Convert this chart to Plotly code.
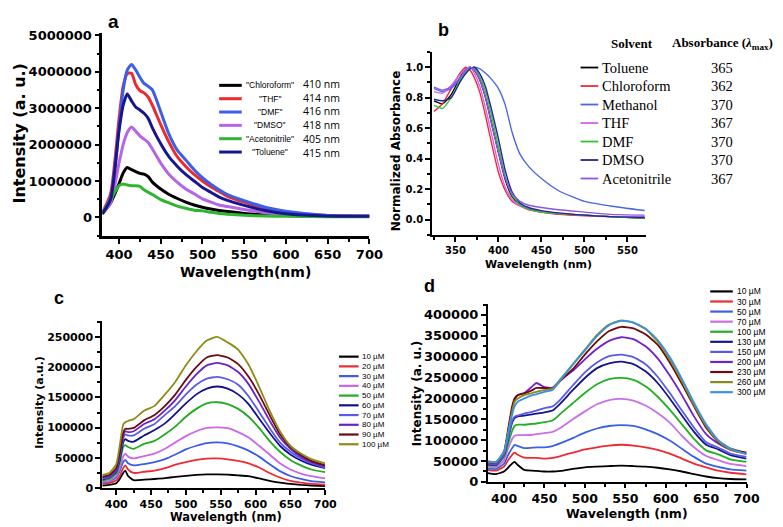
import plotly.graph_objects as go

W, H = 783, 527

# ---------------- Panel a data (emission in solvents) ----------------
a_wl = [380, 390, 400, 405, 410, 415, 420, 425, 430, 435, 440, 450, 460, 470,
        480, 490, 500, 510, 520, 530, 550, 575, 600, 650, 700]
a_chloroform = [0.10e6, 0.40e6, 0.92e6, 1.22e6, 1.37e6, 1.31e6, 1.26e6, 1.21e6, 1.19e6, 1.12e6, 0.97e6, 0.78e6, 0.63e6, 0.52e6,
                0.42e6, 0.34e6, 0.28e6, 0.23e6, 0.19e6, 0.16e6, 0.11e6, 0.07e6, 0.05e6, 0.03e6, 0.03e6]
a_thf = [0.12e6, 0.65e6, 2.70e6, 3.60e6, 3.95e6, 3.96e6, 3.65e6, 3.48e6, 3.42e6, 3.30e6, 3.08e6, 2.55e6, 2.06e6, 1.66e6,
         1.40e6, 1.18e6, 1.00e6, 0.84e6, 0.71e6, 0.58e6, 0.42e6, 0.25e6, 0.14e6, 0.05e6, 0.03e6]
a_dmf = [0.12e6, 0.55e6, 2.45e6, 3.50e6, 4.05e6, 4.20e6, 4.05e6, 3.85e6, 3.68e6, 3.60e6, 3.50e6, 2.90e6, 2.28e6, 1.84e6,
         1.58e6, 1.31e6, 1.09e6, 0.91e6, 0.76e6, 0.63e6, 0.46e6, 0.28e6, 0.17e6, 0.05e6, 0.03e6]
a_dmso = [0.10e6, 0.40e6, 1.49e6, 2.00e6, 2.33e6, 2.48e6, 2.37e6, 2.24e6, 2.15e6, 2.06e6, 1.88e6, 1.49e6, 1.18e6, 0.96e6,
          0.78e6, 0.65e6, 0.51e6, 0.42e6, 0.34e6, 0.30e6, 0.22e6, 0.13e6, 0.07e6, 0.03e6, 0.03e6]
a_acetonitrile = [0.09e6, 0.49e6, 0.87e6, 0.92e6, 0.89e6, 0.87e6, 0.87e6, 0.85e6, 0.76e6, 0.69e6, 0.63e6, 0.49e6, 0.40e6, 0.31e6,
                  0.25e6, 0.20e6, 0.18e6, 0.14e6, 0.11e6, 0.09e6, 0.06e6, 0.04e6, 0.03e6, 0.02e6, 0.02e6]
a_toluene = [0.10e6, 0.50e6, 2.37e6, 3.08e6, 3.39e6, 3.20e6, 3.03e6, 2.95e6, 2.86e6, 2.72e6, 2.46e6, 2.02e6, 1.66e6, 1.40e6,
             1.18e6, 1.00e6, 0.82e6, 0.69e6, 0.56e6, 0.47e6, 0.33e6, 0.19e6, 0.10e6, 0.04e6, 0.03e6]
a_names = ["Chloroform", "THF", "DMF", "DMSO", "Acetonitrile", "Toluene"]
a_peaks = ["410 nm", "414 nm", "416 nm", "418 nm", "405 nm", "415 nm"]
a_colors = ["#000000", "#ee2a2e", "#3d5fe6", "#b565e6", "#2fb52f", "#16168e"]
a_series = [a_chloroform, a_thf, a_dmf, a_dmso, a_acetonitrile, a_toluene]

# ---------------- Panel b data (normalized absorbance) ----------------
b_wl = [325, 335, 345, 355, 362, 367, 372, 378, 385, 392, 400, 408, 416, 425,
        435, 450, 470, 500, 530, 570]
b_toluene = [0.78, 0.76, 0.82, 0.93, 0.99, 1.00, 0.98, 0.92, 0.80, 0.63, 0.44, 0.26, 0.15, 0.10,
             0.07, 0.05, 0.04, 0.03, 0.02, 0.01]
b_chloroform = [0.71, 0.76, 0.86, 0.96, 1.00, 0.98, 0.93, 0.84, 0.68, 0.50, 0.31, 0.19, 0.12, 0.09,
                0.065, 0.05, 0.035, 0.025, 0.02, 0.015]
b_methanol = [0.86, 0.84, 0.86, 0.92, 0.96, 0.99, 1.00, 0.99, 0.96, 0.92, 0.86, 0.75, 0.57, 0.43,
              0.35, 0.27, 0.19, 0.12, 0.09, 0.06]
b_thf = [0.84, 0.83, 0.88, 0.95, 0.99, 1.00, 0.96, 0.88, 0.73, 0.56, 0.36, 0.21, 0.13, 0.09,
         0.07, 0.05, 0.04, 0.03, 0.02, 0.02]
b_dmf = [0.75, 0.73, 0.80, 0.91, 0.97, 0.99, 0.99, 0.94, 0.84, 0.68, 0.48, 0.28, 0.16, 0.10,
         0.07, 0.05, 0.04, 0.03, 0.02, 0.01]
b_dmso = [0.79, 0.78, 0.80, 0.90, 0.96, 0.99, 1.00, 0.96, 0.87, 0.72, 0.53, 0.32, 0.18, 0.11,
          0.08, 0.06, 0.045, 0.03, 0.02, 0.015]
b_acetonitrile = [0.87, 0.85, 0.87, 0.93, 0.98, 1.00, 0.98, 0.92, 0.80, 0.63, 0.44, 0.27, 0.17, 0.12,
                  0.095, 0.08, 0.065, 0.05, 0.035, 0.03]
b_names = ["Toluene", "Chloroform", "Methanol", "THF", "DMF", "DMSO", "Acetonitrile"]
b_lmax = ["365", "362", "370", "367", "370", "370", "367"]
b_colors = ["#000000", "#ee2a3a", "#4a68e0", "#d066e6", "#33c433", "#24249c", "#8a56e6"]
b_series = [b_toluene, b_chloroform, b_methanol, b_thf, b_dmf, b_dmso, b_acetonitrile]

# ---------------- Panel c data (concentration series) ----------------
c_wl = [380, 390, 400, 405, 410, 413, 417, 425, 440, 455, 470, 485, 500, 515, 530,
        545, 560, 575, 590, 605, 620, 635, 650, 665, 680, 700]
c_10 = [4200, 5300, 8000, 15000, 25000, 29000, 20000, 13000, 13800, 15000, 16400, 18500, 20000, 21700, 22700,
        22700, 22200, 21000, 19600, 16000, 12000, 9000, 6900, 5300, 4200, 3200]
c_20 = [6900, 8000, 13000, 20000, 33000, 37600, 30700, 25000, 27000, 29000, 33000, 38600, 43000, 46500, 48700,
        49000, 47600, 45000, 41000, 34000, 25000, 17500, 12000, 9000, 6900, 5800]
c_30 = [9000, 10600, 17500, 28000, 43000, 46500, 41000, 37600, 39700, 43000, 48000, 55500, 64000, 70000, 74500,
        75600, 74000, 69000, 62000, 52000, 39700, 28000, 20000, 15000, 11600, 9500]
c_40 = [10600, 12000, 20000, 33000, 52000, 57000, 52000, 49000, 53000, 57000, 65000, 75600, 86000, 94000, 99500,
        100500, 99000, 92500, 83600, 70000, 55500, 41000, 30700, 24000, 19600, 16000]
c_50 = [12000, 15000, 24000, 41000, 68000, 71000, 68000, 65000, 73000, 78000, 89000, 102000, 118000, 131000, 140000,
        142000, 139000, 131000, 118000, 99500, 78000, 60000, 46500, 37600, 30700, 26500]
c_60 = [14000, 17500, 27000, 46500, 75600, 81000, 78000, 76700, 87000, 96000, 107000, 123000, 140000, 155000, 164500,
        168000, 164500, 155000, 139000, 115000, 91500, 70000, 55500, 45500, 38600, 33000]
c_70 = [16000, 18500, 29000, 52000, 82000, 89000, 87000, 87000, 98000, 106000, 121000, 136000, 155000, 171000, 181000,
        184000, 180000, 171000, 152000, 126000, 99500, 75600, 60000, 49000, 41000, 34000]
c_80 = [17500, 20000, 30700, 55500, 87000, 94000, 92500, 94000, 106000, 114000, 128500, 146000, 168000, 188000, 203000,
        207000, 203000, 192000, 172000, 143000, 112000, 83600, 65000, 52000, 43000, 36000]
c_90 = [19000, 21700, 33000, 60000, 91500, 98000, 98000, 99500, 112000, 121000, 136000, 155000, 179000, 200000, 216000,
        220000, 216000, 205000, 184000, 155000, 121000, 89000, 68000, 54500, 45000, 37600]
c_100 = [21700, 25000, 39000, 70000, 105000, 109000, 111000, 114000, 128000, 136000, 155000, 176000, 203000, 226000, 244000,
         250000, 241000, 229000, 204000, 168000, 128500, 94000, 70000, 57000, 48000, 41000]
c_labels = ["10 µM", "20 µM", "30 µM", "40 µM", "50 µM", "60 µM", "70 µM", "80 µM", "90 µM", "100 µM"]
c_colors = ["#000000", "#ee2a32", "#3a5ce8", "#c868e8", "#22aa22", "#12128c", "#5a5aea", "#6a22c8", "#6a0a12", "#8c8c14"]
c_series = [c_10, c_20, c_30, c_40, c_50, c_60, c_70, c_80, c_90, c_100]

# ---------------- Panel d data (concentration series) ----------------
d_wl = [380, 390, 400, 405, 410, 413, 417, 425, 435, 440, 450, 460, 470, 485, 500, 515, 530,
        545, 560, 575, 590, 605, 620, 635, 650, 665, 680, 700]
d_10 = [21000, 18700, 25000, 34000, 44000, 48000, 40500, 29000, 27000, 26500, 25000, 25000, 26500, 31000, 35000, 36600, 38000,
        39000, 38000, 36600, 34000, 30000, 25000, 18700, 13000, 9000, 7000, 6000]
d_30 = [29000, 27000, 36600, 52000, 65000, 70000, 65000, 58000, 57800, 57600, 56000, 57600, 62000, 70000, 78000, 83000, 87000,
        89000, 87000, 83000, 77000, 68000, 56000, 44000, 35000, 27000, 22000, 18000]
d_50 = [32700, 31000, 44000, 64000, 81000, 89000, 86000, 81000, 82000, 82600, 83000, 86000, 93000, 105000, 118000, 128000, 134000,
        136000, 134000, 126000, 114500, 99000, 79500, 60000, 44000, 36000, 30000, 27000]
d_70 = [36600, 35000, 52000, 79500, 103000, 110600, 112000, 112000, 113000, 114500, 117000, 120000, 130000, 150000, 169000, 186000, 196000,
        199000, 195000, 183000, 165000, 142000, 110600, 83000, 62000, 52000, 43000, 38000]
d_100 = [40500, 39000, 60000, 91000, 122000, 134000, 137000, 137000, 139000, 140000, 143000, 147000, 163600, 188500, 213000, 234000, 246000,
         249000, 244600, 229000, 204000, 173000, 138000, 103000, 75600, 66000, 54000, 48000]
d_130 = [42000, 40500, 64000, 103000, 142000, 153000, 157000, 159000, 162000, 163600, 166700, 171000, 188500, 219700, 249000, 272600, 284000,
         288000, 282000, 265000, 237000, 200000, 159000, 120000, 89000, 78000, 64000, 56000]
d_150 = [43600, 42000, 65000, 106000, 146000, 156000, 159000, 163600, 168000, 171000, 177000, 181000, 198000, 231000, 262500, 286000, 301500,
         305000, 299000, 282000, 252000, 213000, 171000, 130000, 95000, 82000, 68000, 60000]
d_200 = [46700, 44000, 70000, 118000, 173000, 196000, 208000, 213000, 229000, 237000, 227000, 226000, 244600, 266000, 293700, 319000, 338000,
         346600, 342000, 325000, 296000, 254700, 208000, 157000, 114500, 92000, 77000, 68000]
d_230 = [48000, 46700, 73000, 126000, 181000, 200000, 208000, 212000, 220000, 225000, 225000, 223600, 243000, 270000, 305000, 336500, 361500,
         371600, 367700, 353700, 328700, 286000, 235000, 181000, 130000, 96000, 80000, 70000]
d_260 = [48000, 46700, 71700, 118000, 169000, 192000, 200000, 208000, 213000, 216000, 220000, 223600, 247000, 282000, 317000, 352000, 377000,
         387000, 381700, 366000, 336500, 293700, 241500, 184600, 134000, 97000, 78000, 67000]
d_300 = [50000, 48000, 73000, 114500, 161000, 181000, 192000, 200000, 208000, 210000, 216000, 220000, 244600, 280000, 314700, 349000, 375500,
         385600, 381700, 367700, 340000, 299000, 247000, 190000, 138000, 100000, 80000, 66000]
d_labels = ["10 µM", "30 µM", "50 µM", "70 µM", "100 µM", "130 µM", "150 µM", "200 µM", "230 µM", "260 µM", "300 µM"]
d_colors = ["#000000", "#ee2a32", "#3a62e0", "#c870e8", "#22b022", "#14148c", "#5a5ae6", "#7022c8", "#700a0a", "#8a8a1a", "#3a92e2"]
d_series = [d_10, d_30, d_50, d_70, d_100, d_130, d_150, d_200, d_230, d_260, d_300]


def X(p):
    return p / W


def Y(p):
    return 1 - p / H


fig = go.Figure()

for vals, col in zip(a_series, a_colors):
    fig.add_trace(go.Scatter(x=a_wl, y=vals, mode="lines", xaxis="x", yaxis="y", showlegend=False,
                             line=dict(color=col, width=3, shape="spline", smoothing=0.6)))
for vals, col in zip(b_series, b_colors):
    fig.add_trace(go.Scatter(x=b_wl, y=vals, mode="lines", xaxis="x2", yaxis="y2", showlegend=False,
                             line=dict(color=col, width=1.4, shape="spline", smoothing=0.5)))
for vals, col in zip(c_series, c_colors):
    fig.add_trace(go.Scatter(x=c_wl, y=vals, mode="lines", xaxis="x3", yaxis="y3", showlegend=False,
                             line=dict(color=col, width=1.8, shape="spline", smoothing=0.5)))
for vals, col in zip(d_series, d_colors):
    fig.add_trace(go.Scatter(x=d_wl, y=vals, mode="lines", xaxis="x4", yaxis="y4", showlegend=False,
                             line=dict(color=col, width=1.8, shape="spline", smoothing=0.5)))


def axis(domain, rng, dtick, mdtick, fs, anchor, fmt, lw=2, tl=5):
    return dict(domain=domain, range=rng, anchor=anchor, showline=True, linecolor="black", linewidth=lw,
                ticks="outside", ticklen=tl, tickwidth=2, tickcolor="black", showgrid=False, zeroline=False,
                tick0=0, dtick=dtick, tickformat=fmt,
                tickfont=dict(family="DejaVu Sans", size=fs, color="black", weight="bold"),
                minor=dict(ticks="outside", ticklen=3, tickwidth=1.5, tickcolor="black", dtick=mdtick,
                           tick0=0, showgrid=False))


layout = dict(
    width=W, height=H, margin=dict(l=0, r=0, t=0, b=0),
    paper_bgcolor="white", plot_bgcolor="white", showlegend=False,
    xaxis=axis([X(96), X(368)], [380, 700], 50, 25, 13, "y", "d", 2.5),
    yaxis=axis([Y(228), Y(20)], [-508000, 5050000], 1000000, 500000, 13, "x", "d", 2.5),
    xaxis2=axis([X(432), X(650)], [323, 572], 50, 25, 10, "y2", "d", 2),
    yaxis2=axis([Y(227), Y(39)], [-0.1, 1.1], 0.2, 0.1, 10, "x2", ".1f", 2),
    xaxis3=axis([X(96), X(323)], [380, 700], 50, 25, 11, "y3", "d", 2),
    yaxis3=axis([Y(487), Y(315)], [0, 277000], 50000, 25000, 11, "x3", "d", 2),
    xaxis4=axis([X(488.6), X(752)], [380, 700], 50, 25, 12.5, "y4", "d", 2, 4),
    yaxis4=axis([Y(480.7), Y(298)], [0, 426000], 50000, 25000, 13, "x4", "d", 2),
)
fig.update_layout(**layout)

ann = []
shapes = []


def text(x, y, s, size, family="DejaVu Sans", bold=True, angle=0, xanchor="center", color="black", align="center"):
    ann.append(dict(x=X(x), y=Y(y), xref="paper", yref="paper", text=s, showarrow=False,
                    xanchor=xanchor, yanchor="middle", textangle=angle, align=align,
                    font=dict(family=family, size=size, color=color, weight="bold" if bold else "normal")))


# panel letters
text(107, 8, "a", 19, family="Liberation Sans")
text(443, 16, "b", 18, family="Liberation Sans")
text(52, 292, "c", 18, family="Liberation Sans")
text(429, 279, "d", 18, family="Liberation Sans")

# axis titles
text(12, 123, "Intensity (a. u.)", 16, angle=-90)
text(242, 265, "Wavelength(nm)", 14)
text(395, 140, "Normalized Absorbance", 12, angle=-90)
text(540, 257, "Wavelength (nm)", 11)
text(32, 399, "Intensity (a.u.)", 11, angle=-90)
text(222, 517, "Wavelength (nm)", 11.5)
text(416, 390, "Intensity (a. u.)", 12, angle=-90)
text(630, 513, "Wavelength (nm)", 12.5)


def seg(x0, x1, y, col, w):
    shapes.append(dict(type="line", xref="paper", yref="paper", x0=X(x0), x1=X(x1), y0=Y(y), y1=Y(y),
                       line=dict(color=col, width=w)))


# legend a
a_row0, a_gap = 73.3, 13.7
for i, (nm, col) in enumerate(zip(a_names, a_colors)):
    yy = a_row0 + i * a_gap
    seg(215, 238, yy, col, 3)
    text(267, yy, '"' + nm + '"', 8.5, family="Liberation Sans", bold=False)
# peak wavelengths as one column block (line spacing 1.3 x font = row gap)
text(298, a_row0 + 2.5 * a_gap, "<br>".join(a_peaks), a_gap / 1.3, family="Open Sans", bold=False,
     xanchor="left", align="left")

# legend b (table)
text(635, 30, "Solvent", 13, family="Liberation Serif")
text(727, 30, "Absorbance (<i>λ</i><sub>max</sub>)", 13, family="Liberation Serif")
for i, (nm, v, col) in enumerate(zip(b_names, b_lmax, b_colors)):
    yy = 55 + i * 19
    seg(583, 601, yy, col, 1.8)
    text(603, yy, nm, 14.5, family="Liberation Serif", bold=False, xanchor="left")
    text(727, yy, v, 14.5, family="Liberation Serif", bold=False)

# legend c
for i, (lb, col) in enumerate(zip(c_labels, c_colors)):
    yy = 352 + i * 10
    seg(337, 357, yy, col, 2.2)
    text(358, yy, lb, 8, family="Liberation Sans", bold=False, xanchor="left")

# legend d
for i, (lb, col) in enumerate(zip(d_labels, d_colors)):
    yy = 285 + i * 10.35
    seg(715, 738, yy, col, 2.2)
    text(740, yy, lb, 8.5, family="Liberation Sans", bold=False, xanchor="left")

fig.update_layout(annotations=ann, shapes=shapes)
fig.write_html("out.html")
